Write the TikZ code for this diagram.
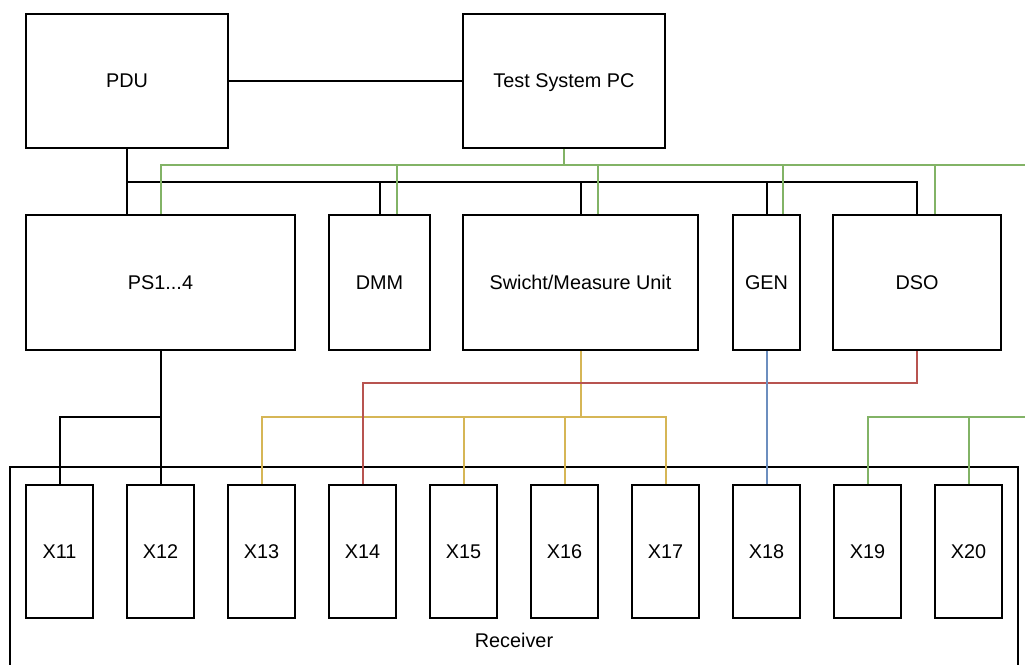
\documentclass[tikz,border=0pt]{standalone}
\usepackage{fontspec}
\setmainfont{Liberation Sans}
\usepackage{tikz}
\definecolor{lancol}{HTML}{82B366}
\definecolor{sigcol}{HTML}{D6B656}
\definecolor{trigcol}{HTML}{B85450}
\definecolor{gencol}{HTML}{6C8EBF}
\tikzset{
  box/.style={draw,line width=1.2pt,inner sep=0pt,text depth=0pt,font=\fontsize{11.9}{14}\selectfont},
  dims/.style 2 args={minimum width=#1*0.6pt,minimum height=#2*0.6pt},
  pwr/.style={line width=1.2pt,black},
  lan/.style={line width=1.2pt,lancol},
  sig/.style={line width=1.2pt,sigcol},
  trig/.style={line width=1.2pt,trigcol},
  gensig/.style={line width=1.2pt,gencol}}
\begin{document}
\begin{tikzpicture}[x=0.6pt,y=-0.6pt]
\useasboundingbox (0,0) rectangle (1025,664);
\clip (0,0) rectangle (1025,664);
\coordinate (lanend) at (1040,165);
\coordinate (pwrbus) at (0,182);
\coordinate (probe) at (0,383);
\coordinate (tap) at (0,417);
\coordinate (lanend2) at (1040,417);

\node[box,dims={202}{134}] (pdu) at (127,81) {PDU};
\node[box,dims={202}{134}] (pc) at (564,81) {Test System PC};
\node[box,dims={269}{135}] (ps) at (160.5,282.5) {PS1...4};
\node[box,dims={101}{135}] (dmm) at (379.5,282.5) {DMM};
\node[box,dims={235}{135}] (sw) at (580.5,282.5) {Swicht/Measure Unit};
\node[box,dims={67}{135}] (gen) at (766.5,282.5) {GEN};
\node[box,dims={168}{135}] (dso) at (917,282.5) {DSO};
\node[box,dims={1008}{346}] (rx) at (514,640) {Receiver};
\foreach \n [count=\i from 0] in {11,...,20}
  \node[box,dims={67}{133}] (x\n) at (59.5+101*\i,551.5) {X\n};

\draw[pwr] (pdu) -- (pc);
\draw[pwr] (pdu.south) -- (pdu.south |- ps.north);
\draw[pwr] (pdu.south |- pwrbus) -| (dso.north);
\foreach \d in {dmm,sw,gen}
  \draw[pwr] (\d.north) -- (\d.north |- pwrbus);
\draw[lan] (pc.south) -- (pc.south |- lanend);
\draw[lan] (ps.north) |- (lanend);
\foreach \d/\o in {dmm/17.5,sw/17.5,gen/16.5,dso/18}
  \draw[lan] (\d.north) ++(\o,0) |- (lanend);

\draw[pwr] (ps) -- (x12);
\draw[pwr] (ps.south |- tap) -| (x11.north);
\draw[sig] (sw.south) -- (sw.south |- tap);
\draw[sig] (x13.north) |- (x17.north |- tap) -- (x17.north);
\foreach \x in {15,16}
  \draw[sig] (x\x.north) -- (x\x.north |- tap);
\draw[trig] (dso.south) |- (x14.north |- probe) -- (x14.north);
\draw[gensig] (gen) -- (x18);
\draw[lan] (x19.north) |- (lanend2);
\draw[lan] (x20.north) -- (x20.north |- lanend2);
\end{tikzpicture}
\end{document}
